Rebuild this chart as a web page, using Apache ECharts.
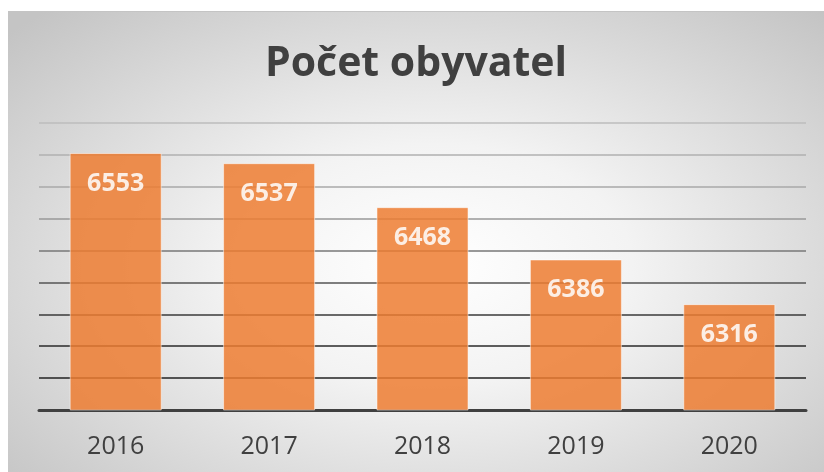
<!DOCTYPE html>
<html>
<head>
<meta charset="utf-8">
<script src="https://cdn.jsdelivr.net/npm/echarts@6/dist/echarts.min.js"></script>
<style>
  html, body { margin: 0; padding: 0; background: #fff; }
  #chart {
    position: absolute;
    left: 8px;
    top: 11px;
    width: 816px;
    height: 461px;
    border-top: 1px solid #c4c4c4;
    box-sizing: border-box;
    background: radial-gradient(ellipse 70% 75% at 52% 55%, #ffffff 0%, #f3f3f3 35%, #d6d6d6 75%, #c4c4c4 100%);
  }
</style>
</head>
<body>
<div id="chart"></div>
<script>
const years = ["2016", "2017", "2018", "2019", "2020"];
const population = [6553, 6537, 6468, 6386, 6316];

// mřížka: světlá nahoře, tmavá dole (od min nahoru)
const gridColors = ["#333", "#222", "#2a2a2a", "#3a3a3a", "#555", "#777", "#999", "#a8a8a8", "#b0b0b0", "#bcbcbc"];

const myChart = echarts.init(document.getElementById("chart"));

myChart.setOption({
  backgroundColor: "transparent",
  animation: false,
  title: {
    text: "Počet obyvatel",
    left: "center",
    top: 27,
    textStyle: {
      fontFamily: "Open Sans",
      fontWeight: "bold",
      fontSize: 41,
      color: "#404040",
    },
  },
  grid: {
    left: 31,
    right: 18,
    top: 111,
    bottom: 62,
  },
  xAxis: {
    type: "category",
    data: years,
    axisTick: { show: false },
    axisLine: {
      lineStyle: { color: "#404040", width: 3 },
    },
    axisLabel: {
      margin: 24,
      fontFamily: "Open Sans",
      fontSize: 25,
      color: "#404040",
    },
  },
  yAxis: {
    type: "value",
    min: 6150,
    max: 6600,
    interval: 50,
    axisLabel: { show: false },
    axisLine: { show: false },
    axisTick: { show: false },
    splitLine: {
      lineStyle: { color: gridColors, width: 1.5 },
    },
  },
  series: [
    {
      type: "bar",
      data: population,
      barWidth: "60%",
      itemStyle: {
        color: "#ED7D31",
        opacity: 0.85,
        borderColor: "rgba(255,255,255,0.6)",
        borderWidth: 1,
      },
      label: {
        show: true,
        position: "insideTop",
        distance: 18,
        fontFamily: "Open Sans",
        fontWeight: "bold",
        fontSize: 25,
        color: "#fff",
      },
    },
  ],
});
</script>
</body>
</html>
